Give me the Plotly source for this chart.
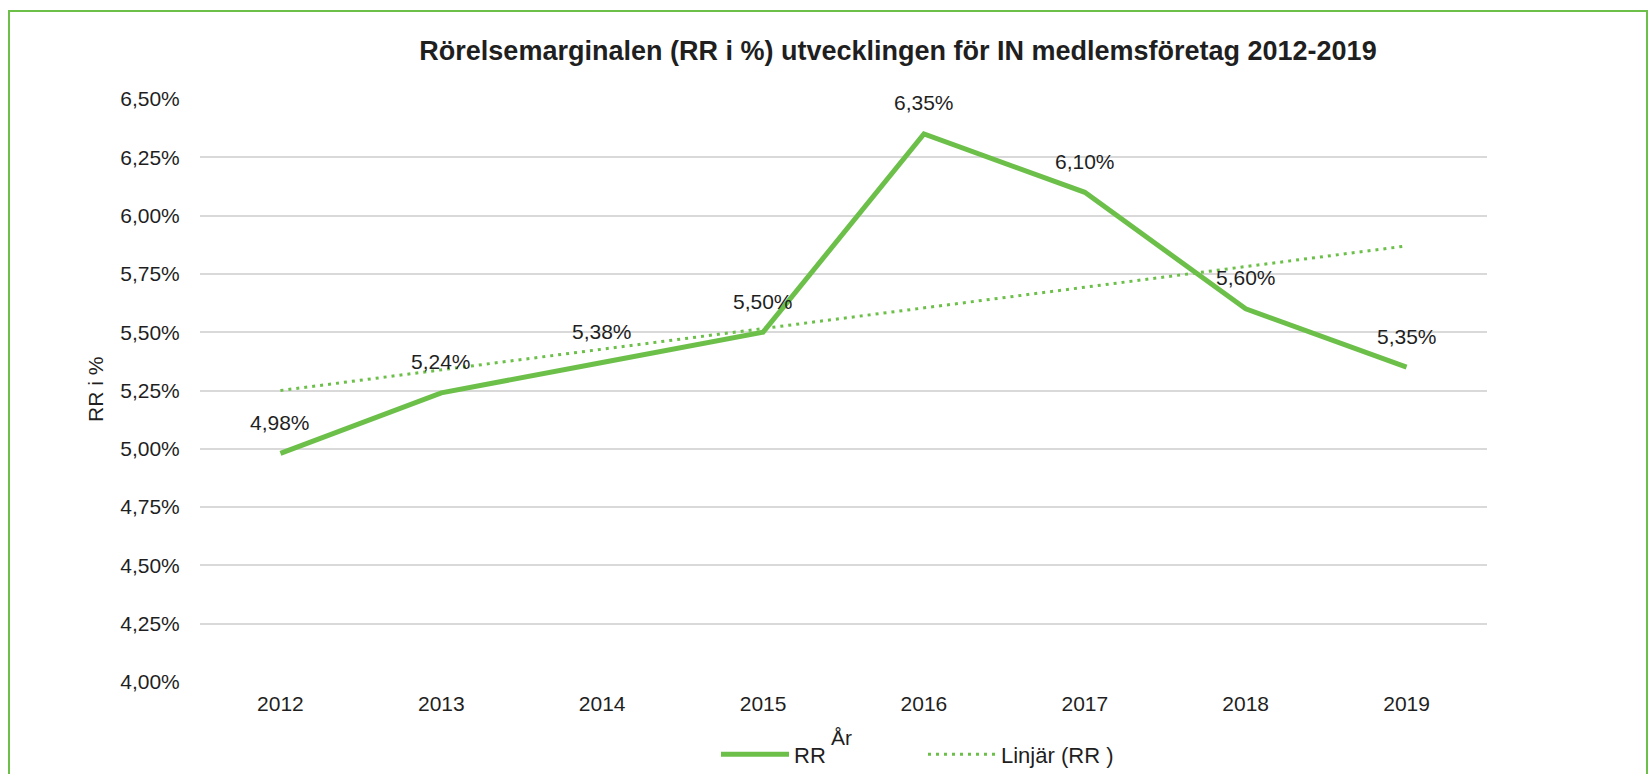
import plotly.graph_objects as go

# ---- data ----
years = ["2012", "2013", "2014", "2015", "2016", "2017", "2018", "2019"]
rr_values = [0.0498, 0.0524, 0.0537, 0.0550, 0.0635, 0.0610, 0.0560, 0.0535]
rr_labels = ["4,98%", "5,24%", "5,38%", "5,50%", "6,35%", "6,10%", "5,60%", "5,35%"]
trend_years = ["2012", "2019"]
trend_values = [0.0525, 0.0587]
y_ticks = [0.04, 0.0425, 0.045, 0.0475, 0.05, 0.0525, 0.055, 0.0575, 0.06, 0.0625, 0.065]

GREEN = "#6CC04A"
TXT = "#1f1f1f"
FONT = "Liberation Sans, Arial, sans-serif"

W, H = 1650, 774
L, R, T, B = 200, 163, 99, 92
pw = W - L - R
ph = H - T - B


def px_x(x):
    return (x - L) / pw


def px_y(y):
    return (H - B - y) / ph


fig = go.Figure()

fig.add_trace(go.Scatter(
    x=years, y=rr_values, mode="lines", name="RR",
    line=dict(color=GREEN, width=5), legend="legend",
))
fig.add_trace(go.Scatter(
    x=trend_years, y=trend_values, mode="lines", name="Linjär (RR )",
    line=dict(color=GREEN, width=3, dash="3px,5px"), legend="legend2",
))

for i, (v, lab) in enumerate(zip(rr_values, rr_labels)):
    fig.add_annotation(x=i, y=v, text=lab, showarrow=False, yshift=31,
                       xanchor="center", yanchor="middle",
                       font=dict(family=FONT, size=21, color=TXT))

# axis titles
fig.add_annotation(xref="paper", yref="paper", x=px_x(841), y=px_y(737),
                   xanchor="center", yanchor="middle",
                   text="År", showarrow=False,
                   font=dict(family=FONT, size=21, color=TXT))
fig.add_annotation(xref="paper", yref="paper", x=px_x(95), y=px_y(390),
                   xanchor="center", yanchor="middle",
                   text="RR i %", showarrow=False, textangle=-90,
                   font=dict(family=FONT, size=21, color=TXT))

# outer green frame
fig.add_shape(type="rect", xref="paper", yref="paper",
              x0=px_x(9), x1=px_x(1647), y0=px_y(800), y1=px_y(11),
              line=dict(color=GREEN, width=2), layer="below")

legend_common = dict(orientation="h", xref="container", yref="container",
                     xanchor="left", yanchor="middle", itemwidth=68,
                     font=dict(family=FONT, size=22, color=TXT),
                     bgcolor="rgba(0,0,0,0)")

fig.update_layout(
    width=W, height=H,
    margin=dict(l=L, r=R, t=T, b=B),
    paper_bgcolor="white", plot_bgcolor="white",
    separators=", ",
    font=dict(family=FONT, size=21, color=TXT),
    title=dict(text="<b>Rörelsemarginalen (RR i %) utvecklingen för IN medlemsföretag 2012-2019</b>",
               x=px_x(898), xref="paper", xanchor="center",
               y=1 - 50.5 / H, yanchor="middle",
               font=dict(family=FONT, size=27, color=TXT)),
    xaxis=dict(type="category", range=[-0.5, 7.5], showgrid=False,
               showline=False, zeroline=False,
               ticks="outside", ticklen=3, tickcolor="rgba(0,0,0,0)",
               tickfont=dict(family=FONT, size=21, color=TXT)),
    yaxis=dict(range=[0.04, 0.065], tickvals=y_ticks, tickformat=".2%",
               showgrid=True, gridcolor="#D9D9D9", gridwidth=1.5,
               zeroline=False, showline=False,
               ticks="outside", ticklen=15, tickcolor="rgba(0,0,0,0)",
               tickfont=dict(family=FONT, size=21, color=TXT)),
    showlegend=True,
    legend=dict(x=716 / W, y=1 - 754.5 / H, **legend_common),
    legend2=dict(x=923 / W, y=1 - 754.5 / H, **legend_common),
)

fig.write_html("out.html", config={"displayModeBar": False},
               post_script="document.body.style.margin='0';document.body.style.overflow='hidden';")
